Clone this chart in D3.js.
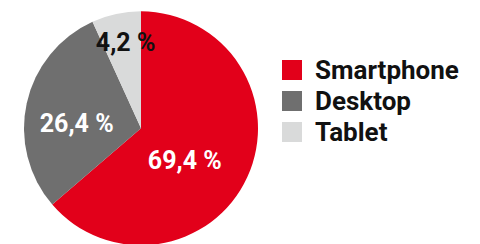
<!DOCTYPE html>
<html>
<head>
<meta charset="utf-8">
<script src="https://cdn.jsdelivr.net/npm/d3@7"></script>
<style>
  html, body { margin: 0; padding: 0; background: #fff; }
</style>
</head>
<body>
<div id="chart"></div>
<script>
// categories and values
const categories = ["Smartphone", "Desktop", "Tablet"];
const labelValues = [69.4, 26.4, 4.2]; // the printed percentages
const sliceShares = [63.7, 29.5, 6.8]; // slice sizes as drawn in the picture
const colors = ["#e2001a", "#6f6f6f", "#d9dada"];
const labelColors = ["#ffffff", "#ffffff", "#111111"];

// settings of the svg appearance
const settings = {
  width: 480,
  height: 244,
  cx: 141,
  cy: 128.3,
  radius: 117,
  labelFont: 25,
  legendX: 282,
  legendY: 60,
  legendStep: 31,
  swatch: 20,
  legendFont: 26,
  font: "Roboto, 'DejaVu Sans', sans-serif",
};

// small shifts of the percentage labels away from the arc centroid
const labelNudge = [[-9.4, 16.4], [-7.2, 16], [-3, -20.1]];

const svg = d3
  .select("#chart")
  .append("svg")
  .attr("width", settings.width)
  .attr("height", settings.height);

const pie = d3.pie().sort(null).value((d) => d.share);
const slices = pie(
  categories.map((c, i) => ({ name: c, share: sliceShares[i], label: labelValues[i], i }))
);

const arc = d3.arc().innerRadius(0).outerRadius(settings.radius);
const labelArc = d3.arc().innerRadius(settings.radius * 0.5).outerRadius(settings.radius * 0.5);

const pieGroup = svg
  .append("g")
  .attr("transform", `translate(${settings.cx},${settings.cy})`);

pieGroup
  .selectAll("path")
  .data(slices)
  .enter()
  .append("path")
  .attr("d", arc)
  .style("fill", (d) => colors[d.data.i]);

const fmt = (v) => d3.format(".1f")(v).replace(".", ",") + " %";

pieGroup
  .selectAll("text")
  .data(slices)
  .enter()
  .append("text")
  .attr("x", (d) => labelArc.centroid(d)[0] + labelNudge[d.data.i][0])
  .attr("y", (d) => labelArc.centroid(d)[1] + labelNudge[d.data.i][1])
  .attr("text-anchor", "middle")
  .style("fill", (d) => labelColors[d.data.i])
  .style("font-family", settings.font)
  .style("font-weight", "bold")
  .style("font-size", settings.labelFont + "px")
  .text((d) => fmt(d.data.label));

// legend
const legend = svg
  .append("g")
  .attr("transform", `translate(${settings.legendX},${settings.legendY})`);

const items = legend
  .selectAll("g")
  .data(categories)
  .enter()
  .append("g")
  .attr("transform", (d, i) => `translate(0,${i * settings.legendStep})`);

items
  .append("rect")
  .attr("width", settings.swatch)
  .attr("height", settings.swatch)
  .style("fill", (d, i) => colors[i]);

items
  .append("text")
  .attr("x", 33)
  .attr("y", 19)
  .style("fill", "#111")
  .style("font-family", settings.font)
  .style("font-weight", "bold")
  .style("font-size", settings.legendFont + "px")
  .text((d) => d);
</script>
</body>
</html>
